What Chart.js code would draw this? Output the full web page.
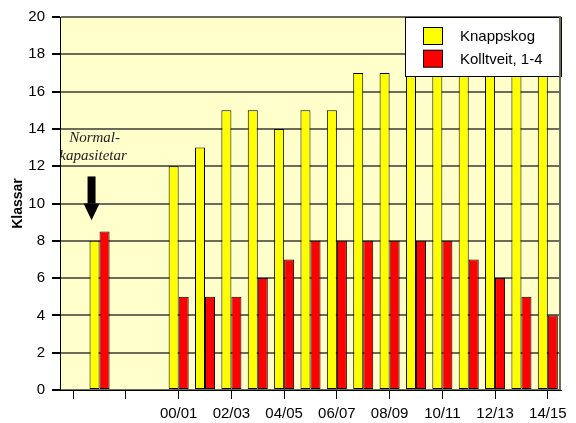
<!DOCTYPE html>
<html>
<head>
<meta charset="utf-8">
<script src="https://cdn.jsdelivr.net/npm/chart.js@4.4.1/dist/chart.umd.min.js"></script>
<style>
	html, body { margin: 0; padding: 0; background: #ffffff; }
	#wrap { position: relative; width: 576px; height: 423px; }
</style>
</head>
<body>
<div id="wrap"><canvas id="chart"></canvas></div>
<script>
// School years on the x axis (first slots: gap, normal capacity, gap, gap)
const categories = ['', 'Normal', '', '', '00/01', '01/02', '02/03', '03/04', '04/05', '05/06',
	'06/07', '07/08', '08/09', '09/10', '10/11', '11/12', '12/13', '13/14', '14/15'];
const seriesNames = ['Knappskog', 'Kolltveit, 1-4'];
const knappskog = [null, 8, null, null, 12, 13, 15, 15, 14, 15, 15, 17, 17, 17, 17, 17, 17, 17, 17];
const kolltveit = [null, 8.5, null, null, 5, 5, 5, 6, 7, 8, 8, 8, 8, 8, 8, 7, 6, 5, 4];
const yMin = 0;
const yMax = 20;
const yStep = 2;
const yTitle = 'Klassar';
const noteLines = ['Normal-', 'kapasitetar'];

const seriesColors = ['#ffff00', '#ff0000'];

Chart.defaults.font.family = "'Liberation Sans', Arial, sans-serif";
Chart.defaults.color = '#000';

// plot area background + right frame line
const plotFrame = {
	id: 'plotFrame',
	beforeDraw(chart) {
		const {ctx, chartArea: a} = chart;
		ctx.save();
		ctx.fillStyle = '#ffffcc';
		ctx.fillRect(a.left, a.top, a.right - a.left, a.bottom - a.top);
		ctx.restore();
	},
	afterDraw(chart) {
		const {ctx, chartArea: a} = chart;
		ctx.save();
		ctx.strokeStyle = '#6c6c5c';
		ctx.lineWidth = 2;
		ctx.beginPath();
		ctx.moveTo(Math.round(a.right) - 1, a.top);
		ctx.lineTo(Math.round(a.right) - 1, a.bottom);
		ctx.stroke();
		ctx.restore();
	},
};

// "Normal-kapasitetar" note with the arrow pointing down on the first pair
const noteArrow = {
	id: 'noteArrow',
	afterDatasetsDraw(chart) {
		const {ctx} = chart;
		const x = chart.scales.x;
		const y = chart.scales.y;
		const cx = x.getPixelForValue(1);
		ctx.save();
		ctx.fillStyle = '#222';
		ctx.font = "italic 15px 'Liberation Serif', 'Times New Roman', serif";
		ctx.textAlign = 'center';
		ctx.textBaseline = 'alphabetic';
		ctx.fillText(noteLines[0], cx - 5, y.getPixelForValue(13.28));
		ctx.fillText(noteLines[1], cx - 6.5, y.getPixelForValue(12.35));

		const ax = cx - 8;
		const top = y.getPixelForValue(11.45);
		const headBase = y.getPixelForValue(10.0);
		const tip = y.getPixelForValue(9.1);
		ctx.fillStyle = '#000';
		ctx.fillRect(ax - 4, top, 8, headBase - top);
		ctx.beginPath();
		ctx.moveTo(ax - 8, headBase);
		ctx.lineTo(ax + 8, headBase);
		ctx.lineTo(ax, tip);
		ctx.closePath();
		ctx.fill();
		ctx.restore();
	},
};

// boxed legend sitting over the top right corner of the plot
const boxLegend = {
	id: 'boxLegend',
	afterDatasetsDraw(chart) {
		const {ctx, chartArea: a} = chart;
		const w = 156;
		const h = 59;
		const left = Math.round(a.right - w) + 0.5;
		const top = Math.round(a.top) + 0.5;
		ctx.save();
		ctx.fillStyle = '#fff';
		ctx.fillRect(left, top, w, h);
		ctx.strokeStyle = '#000';
		ctx.lineWidth = 1;
		ctx.strokeRect(left, top, w, h);
		ctx.font = "15px 'Liberation Sans', Arial, sans-serif";
		ctx.textBaseline = 'middle';
		ctx.textAlign = 'left';
		chart.data.datasets.forEach((ds, i) => {
			const rowY = top + 18.5 + i * 22.7;
			ctx.fillStyle = ds.backgroundColor;
			ctx.fillRect(left + 18, rowY - 8.5, 19, 17);
			ctx.strokeStyle = '#000';
			ctx.strokeRect(left + 18, rowY - 8.5, 19, 17);
			ctx.fillStyle = '#000';
			ctx.fillText(ds.label, left + 54.5, rowY + 1);
		});
		ctx.restore();
	},
};

new Chart(document.getElementById('chart'), {
	type: 'bar',
	data: {
		labels: categories,
		datasets: [
			{
				label: seriesNames[0],
				data: knappskog,
				backgroundColor: seriesColors[0],
				borderColor: '#000',
				borderWidth: 1,
				borderSkipped: false,
			},
			{
				label: seriesNames[1],
				data: kolltveit,
				backgroundColor: seriesColors[1],
				borderColor: '#000',
				borderWidth: 1,
				borderSkipped: false,
			},
		],
	},
	options: {
		responsive: true,
		maintainAspectRatio: false,
		animation: false,
		devicePixelRatio: 1,
		categoryPercentage: 0.76,
		barPercentage: 1,
		layout: {padding: {top: 17, right: 15, left: 0, bottom: 0}},
		plugins: {
			legend: {display: false},
			tooltip: {enabled: false},
		},
		scales: {
			x: {
				afterFit: (scale) => {
					scale.height = 33;
				},
				grid: {
					offset: false,
					drawOnChartArea: false,
					drawTicks: true,
					tickLength: 9,
					tickColor: (ctx) => (ctx.index % 2 === 0 ? '#000' : 'rgba(0,0,0,0)'),
					color: 'rgba(0,0,0,0)',
				},
				border: {color: '#000', width: 1},
				ticks: {
					autoSkip: false,
					maxRotation: 0,
					padding: 6,
					font: {size: 15},
					callback: (value, index) => (index % 2 === 0 ? categories[index] : ''),
				},
			},
			y: {
				min: yMin,
				max: yMax,
				afterFit: (scale) => {
					scale.width = 60;
				},
				grid: {
					color: '#6c6c5c',
					lineWidth: 2,
					tickLength: 8,
					tickColor: '#000',
				},
				border: {color: '#000', width: 1},
				ticks: {
					stepSize: yStep,
					padding: 7,
					font: {size: 15},
				},
				title: {
					display: true,
					text: yTitle,
					font: {size: 14, weight: 'bold'},
					padding: {top: 10, bottom: 0},
				},
			},
		},
	},
	plugins: [plotFrame, noteArrow, boxLegend],
});
</script>
</body>
</html>
